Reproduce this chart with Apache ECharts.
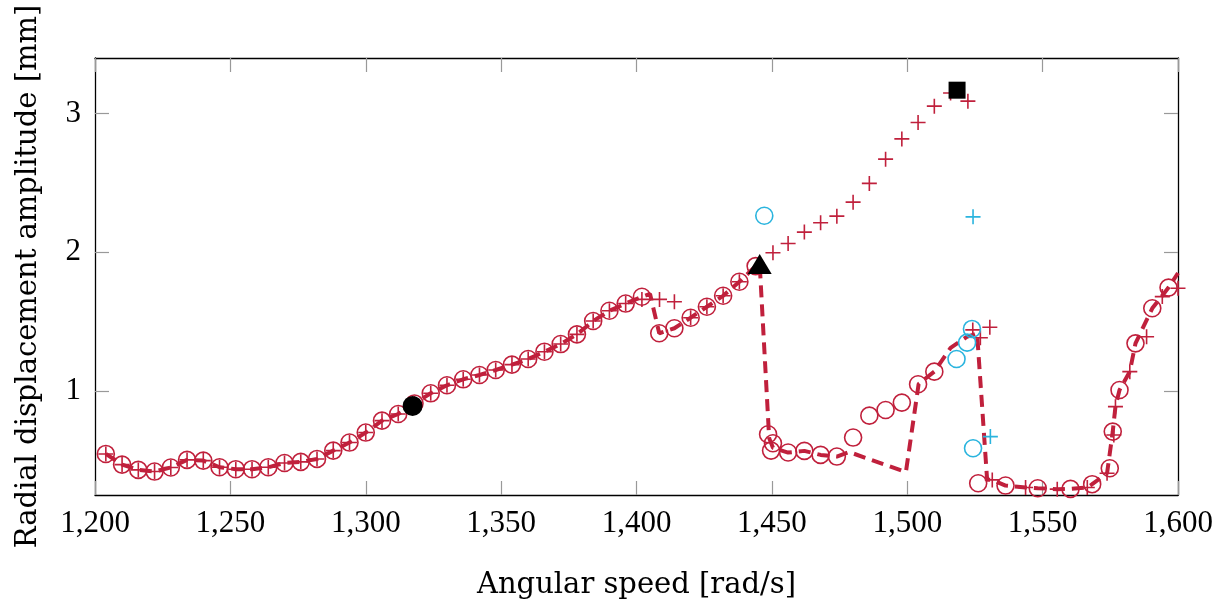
<!DOCTYPE html>
<html>
<head>
<meta charset="utf-8">
<script src="https://cdn.jsdelivr.net/npm/echarts@6/dist/echarts.min.js"></script>
<style>
html,body{margin:0;padding:0;background:#fff;}
#chart{width:1228px;height:609px;}
</style>
</head>
<body>
<div id="chart"></div>
<script>
// ---- data ----
const xTickLabels = [1200, 1250, 1300, 1350, 1400, 1450, 1500, 1550, 1600];
const yTickLabels = [1, 2, 3];

// red open circles
const circX = [1204,1210,1216,1222,1228,1234,1240,1246,1252,1258,1264,1270,1276,1282,1288,1294,1300,1306,1312,1318,1324,1330,1336,1342,1348,1354,1360,1366,1372,1378,1384,1390,1396,1402,1408.4,1414,1420,1426,1432,1438,1444,1448.6,1450.4,1449.7,1456,1462,1468,1474,1480,1486,1492,1498,1504,1510,1526.2,1536.3,1548.2,1560.3,1568.3,1574.8,1575.9,1578.4,1584.3,1590.5,1596.5];
const circY = [0.546,0.469,0.431,0.419,0.448,0.503,0.498,0.450,0.436,0.436,0.450,0.481,0.489,0.51,0.57,0.628,0.70,0.786,0.834,0.91,0.983,1.041,1.084,1.115,1.151,1.19,1.23,1.283,1.338,1.408,1.504,1.578,1.63,1.679,1.416,1.452,1.528,1.607,1.686,1.787,1.90,0.688,0.623,0.57,0.556,0.568,0.539,0.527,0.664,0.822,0.863,0.916,1.048,1.139,0.335,0.318,0.299,0.294,0.328,0.443,0.707,1.007,1.343,1.596,1.745];

// red plus markers
const plusX = [1204,1210,1216,1222,1228,1234,1240,1246,1252,1258,1264,1270,1276,1282,1288,1294,1300,1306,1312,1318,1324,1330,1336,1342,1348,1354,1360,1366,1372,1378,1384,1390,1396,1402,1408.5,1414,1420,1426,1432,1438,1450.4,1456,1462,1468,1474,1480,1486,1492,1498,1504,1510,1516,1522.4,1524.2,1527,1530.5,1531.4,1543.7,1555.4,1566.5,1573.8,1576.3,1576.9,1582.2,1588.4,1594.2,1600];
const plusY = [0.546,0.469,0.431,0.419,0.448,0.503,0.498,0.450,0.436,0.436,0.450,0.481,0.489,0.51,0.57,0.628,0.70,0.786,0.834,0.91,0.983,1.041,1.084,1.115,1.151,1.19,1.23,1.283,1.338,1.408,1.504,1.578,1.63,1.66,1.66,1.643,1.528,1.607,1.686,1.787,1.996,2.063,2.145,2.212,2.26,2.361,2.496,2.671,2.817,2.935,3.053,3.148,3.089,1.44,1.384,1.459,0.359,0.304,0.292,0.304,0.407,0.683,0.887,1.139,1.391,1.68,1.74];

// dashed red curve
const dashX = [1204,1210,1216,1222,1228,1234,1240,1246,1252,1258,1264,1270,1276,1282,1288,1294,1300,1306,1312,1318,1324,1330,1336,1342,1348,1354,1360,1366,1372,1378,1384,1390,1396,1402,1405,1408.4,1414,1420,1426,1432,1438,1444,1445.5,1449,1450.4,1456,1462,1468,1474,1478.5,1499.5,1504.2,1510,1516,1522,1525.8,1529.5,1531.4,1536.3,1543.7,1548.2,1555.4,1560.3,1566.5,1568.3,1573.8,1575.9,1576.9,1578.4,1582.2,1584.3,1590.5,1596.5,1600];
const dashY = [0.546,0.469,0.431,0.419,0.448,0.503,0.498,0.450,0.436,0.436,0.450,0.481,0.489,0.51,0.57,0.628,0.70,0.786,0.834,0.91,0.983,1.041,1.084,1.115,1.151,1.19,1.23,1.283,1.338,1.408,1.504,1.578,1.63,1.679,1.70,1.416,1.452,1.528,1.607,1.686,1.787,1.90,1.915,0.66,0.59,0.556,0.568,0.539,0.527,0.56,0.415,1.05,1.14,1.31,1.39,1.415,0.36,0.359,0.318,0.304,0.299,0.292,0.294,0.304,0.328,0.407,0.707,0.887,1.007,1.139,1.343,1.596,1.745,1.85];

// cyan markers
const cyanCircX = [1447.2, 1518.2, 1522.1, 1523.9, 1524.3];
const cyanCircY = [2.263, 1.23, 1.348, 1.447, 0.587];
const cyanPlusX = [1524.3, 1530.7];
const cyanPlusY = [2.255, 0.671];

// black highlighted points
const blackCircle = [1317.3, 0.892];
const blackTriangle = [1445.5, 1.915];
const blackSquare = [1518.4, 3.168];

// ---- chart ----
const RED = '#c0203c';
const CYAN = '#2ab4de';
const FONT = 'Liberation Serif';
const TFONT = 'DejaVu Serif';
const zip = (a, b) => a.map((v, i) => [v, b[i]]);
const PLUS = 'path://M0,6H12M6,0V12';

const chart = echarts.init(document.getElementById('chart'), null, {renderer: 'canvas'});
const fmt = v => String(v).replace(/\B(?=(\d{3})+(?!\d))/g, ',');

const tickStyle = {show: true, inside: true, length: 14, lineStyle: {color: '#999', width: 1.2}};
const lineStyle = {show: true, lineStyle: {color: '#000', width: 1.3}};
const hollow = c => ({color: 'rgba(255,255,255,0)', borderColor: c, borderWidth: 1.6, opacity: 1});

chart.setOption({
  animation: false,
  backgroundColor: '#fff',
  grid: {left: 95, top: 58, right: 50, bottom: 114, containLabel: false},
  xAxis: [{
    type: 'value', min: 1200, max: 1600, interval: 50, position: 'bottom',
    axisLine: lineStyle, axisTick: tickStyle, splitLine: {show: false},
    axisLabel: {formatter: v => xTickLabels.includes(v) ? fmt(v) : '', fontFamily: FONT, fontSize: 31, color: '#000', margin: 13},
    name: 'Angular speed [rad/s]', nameLocation: 'middle', nameGap: 76,
    nameTextStyle: {fontFamily: TFONT, fontSize: 29, color: '#000'}
  }, {
    type: 'value', min: 1200, max: 1600, interval: 50, position: 'top',
    axisLine: lineStyle, axisTick: tickStyle, axisLabel: {show: false}, splitLine: {show: false}
  }],
  yAxis: [{
    type: 'value', min: 0.25, max: 3.4, position: 'left',
    axisLine: lineStyle,
    axisTick: Object.assign({}, tickStyle, {customValues: yTickLabels}),
    axisLabel: {customValues: yTickLabels, fontFamily: FONT, fontSize: 31, color: '#000', margin: 14},
    splitLine: {show: false},
    name: 'Radial displacement amplitude [mm]', nameLocation: 'middle', nameGap: 52,
    nameTextStyle: {fontFamily: TFONT, fontSize: 29, color: '#000'}
  }, {
    type: 'value', min: 0.25, max: 3.4, position: 'right',
    axisLine: lineStyle,
    axisTick: Object.assign({}, tickStyle, {customValues: yTickLabels}),
    axisLabel: {show: false}, splitLine: {show: false}
  }],
  series: [
    {type: 'scatter', data: zip(circX, circY), symbol: 'circle', symbolSize: 17, itemStyle: hollow(RED), z: 2},
    {type: 'scatter', data: zip(plusX, plusY), symbol: PLUS, symbolSize: 15, itemStyle: hollow(RED), z: 2},
    {type: 'line', data: zip(dashX, dashY), showSymbol: false, symbol: 'none',
     lineStyle: {color: RED, width: 4, type: [12, 7], opacity: 1}, z: 3, clip: true},
    {type: 'scatter', data: zip(cyanCircX, cyanCircY), symbol: 'circle', symbolSize: 17, itemStyle: hollow(CYAN), z: 4},
    {type: 'scatter', data: zip(cyanPlusX, cyanPlusY), symbol: PLUS, symbolSize: 15, itemStyle: hollow(CYAN), z: 4},
    {type: 'scatter', data: [blackCircle], symbol: 'circle', symbolSize: 20, itemStyle: {color: '#000', opacity: 1}, z: 5},
    {type: 'scatter', data: [blackTriangle], symbol: 'triangle', symbolSize: [24, 20], itemStyle: {color: '#000', opacity: 1}, z: 5},
    {type: 'scatter', data: [blackSquare], symbol: 'rect', symbolSize: 17, itemStyle: {color: '#000', opacity: 1}, z: 5}
  ]
});
</script>
</body>
</html>
